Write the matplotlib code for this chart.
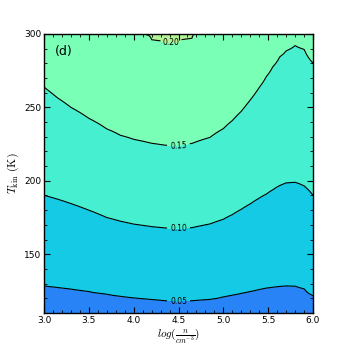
import numpy as np
import matplotlib
matplotlib.use("Agg")
import matplotlib.pyplot as plt
from matplotlib.ticker import MultipleLocator

# log(n) sample positions and the temperatures where each contour level crosses
x_pts = [3.0, 3.15, 3.3, 3.5, 3.7, 3.85, 4.0, 4.2, 4.35, 4.5, 4.65, 4.85, 5.0,
         5.1, 5.2, 5.3, 5.4, 5.48, 5.55, 5.63, 5.7, 5.8, 5.9, 6.0]
T_005 = [128.6, 127.6, 126.5, 124.8, 122.9, 121.6, 120.5, 119.4, 118.6, 118.3, 118.6, 119.5, 121.0,
         122.3, 123.6, 124.8, 126.0, 127.0, 127.7, 128.2, 128.6, 128.4, 126.6, 121.8]
T_010 = [190.1, 187.5, 184.5, 180.0, 175.0, 172.5, 170.5, 168.8, 167.9, 167.5, 168.1, 170.6, 173.8,
         177.0, 180.6, 184.3, 188.2, 191.0, 193.8, 196.8, 198.5, 199.0, 196.5, 190.1]
T_015 = [263.8, 256.5, 250.0, 242.5, 235.3, 231.0, 228.2, 225.5, 224.2, 224.0, 225.4, 229.5, 235.5,
         241.0, 247.3, 255.0, 263.5, 271.0, 277.5, 284.5, 288.5, 292.0, 289.5, 280.1]
T_020 = [340.0, 332.0, 325.0, 317.0, 310.0, 305.0, 300.5, 296.0, 293.3, 293.8, 297.0, 302.5, 308.0,
         313.0, 318.0, 324.0, 330.0, 335.0, 340.0, 344.0, 348.0, 350.0, 348.0, 340.0]
levels = [0.0, 0.05, 0.10, 0.15, 0.20, 0.25]
label_pos = [(4.5, 118), (4.5, 167.5), (4.5, 224), (4.42, 293.5)]

# build the field on a grid from the contour crossings
T_grid = np.arange(100.0, 311.0, 1.0)
Z = np.zeros((len(T_grid), len(x_pts)))
for j in range(len(x_pts)):
    tp = [0.0, T_005[j], T_010[j], T_015[j], T_020[j], 1000.0]
    Z[:, j] = np.interp(T_grid, tp, levels)
X, Y = np.meshgrid(x_pts, T_grid)

plt.rcParams['mathtext.fontset'] = 'cm'
fig = plt.figure(figsize=(3.49, 3.49), dpi=100)
ax = fig.add_axes([0.126, 0.103, 0.771, 0.800])

colors = plt.cm.rainbow([0.175, 0.29, 0.39, 0.49, 0.6])
ax.contourf(X, Y, Z, levels=levels, colors=colors)
cs = ax.contour(X, Y, Z, levels=levels[1:5], colors='k', linewidths=0.8)
txts = ax.clabel(cs, fmt='%.2f', fontsize=5.5, manual=label_pos, inline=True, inline_spacing=3)
for t in txts:
    t.set_clip_on(False)

ax.set_xlim(3.0, 6.0)
ax.set_ylim(110, 300)
ax.xaxis.set_major_locator(MultipleLocator(0.5))
ax.xaxis.set_minor_locator(MultipleLocator(0.1))
ax.yaxis.set_major_locator(MultipleLocator(50))
ax.yaxis.set_minor_locator(MultipleLocator(10))
ax.tick_params(which='both', direction='in', top=True, right=True, labelsize=6.5, pad=2)
ax.tick_params(which='major', length=4, width=0.8)
ax.tick_params(which='minor', length=2, width=0.6)
for s in ax.spines.values():
    s.set_linewidth(1.0)

ax.set_xlabel(r'$log(\frac{n}{cm^{-3}})$', fontsize=8, labelpad=1)
ax.set_ylabel(r'$T_{\rm kin}\ (\rm K)$', fontsize=8.5, labelpad=2)
ax.text(3.12, 288, '(d)', fontsize=9, ha='left', va='center')

fig.savefig('out.png', dpi=100)
